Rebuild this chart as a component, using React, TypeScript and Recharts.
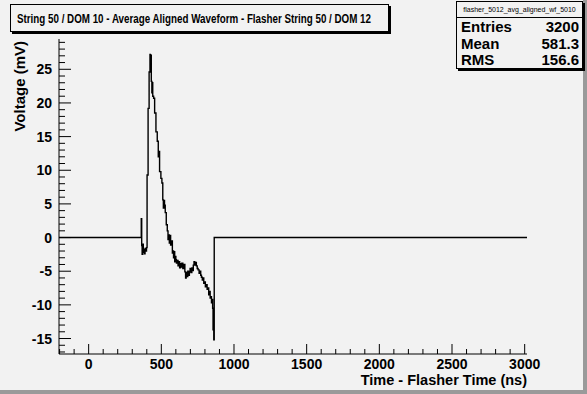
import { Line, LineChart, XAxis, YAxis } from "recharts";

// waveform samples (time in ns, voltage in mV), drawn as a step histogram
const timeNs = [
  -204, 355, 362, 365, 368, 372, 376, 380, 384, 388, 392, 398, 402, 409, 416, 422, 425, 428, 431, 435,
  438, 441, 447, 454, 463, 472, 479, 482, 488, 497, 504, 510, 514, 518, 522, 527, 534, 541, 546, 551,
  555, 560, 564, 568, 576, 580, 584, 587, 592, 596, 600, 604, 610, 615, 620, 626, 632, 637, 641, 648,
  655, 662, 667, 671, 676, 682, 688, 693, 698, 704, 710, 715, 720, 725, 730, 735, 741, 747, 753, 760,
  766, 771, 776, 782, 787, 792, 798, 803, 810, 815, 821, 826, 832, 836, 840, 845, 849, 853, 856, 859,
  861, 864, 3016,
];
const voltageMv = [
  0, 0, 2.8, -1.2, -2.5, -1.0, -2.2, -1.8, -2.4, -1.6, -2.0, -1.5, 9.3, 19.2, 24.6, 27.2, 25.8, 27.1, 23.2, 21.5,
  23.0, 21.0, 20.7, 18.5, 15.7, 14.3, 12.0, 12.8, 9.8, 8.8, 8.1, 5.6, 4.4, 5.5, 4.8, 3.7, 1.9, 1.0, -0.3, 0.4,
  -0.8, 0.3, -1.1, -0.5, -2.3, -2.0, -3.0, -2.1, -3.6, -2.8, -3.3, -3.8, -3.4, -4.2, -3.6, -4.5, -3.9, -4.4, -3.8, -4.6,
  -4.0, -5.1, -6.0, -5.2, -5.8, -5.0, -5.6, -5.1, -4.6, -5.2, -4.5, -4.9, -4.1, -3.6, -4.1, -3.7, -4.2, -4.6, -4.8, -5.3,
  -5.0, -5.6, -5.9, -6.3, -6.0, -6.8, -6.6, -7.3, -7.0, -7.7, -7.5, -8.5, -8.0, -9.0, -8.8, -9.7, -9.2, -10.5, -13.7, -11.0,
  -15.2, 0, 0,
];

const xTicks = Array.from({ length: 33 }, (_, i) => -200 + i * 100);
const yTicks = Array.from({ length: 47 }, (_, i) => -17 + i);

const title = "String 50 / DOM 10 - Average Aligned Waveform - Flasher String 50 / DOM 12";
const statsName = "flasher_5012_avg_aligned_wf_5010";
const statsRows = [
  ["Entries", "3200"],
  ["Mean", "581.3"],
  ["RMS", "156.6"],
];

const data = timeNs.map((t, i) => ({ t, v: voltageMv[i] }));

const font = "'Liberation Sans', Arial, Helvetica, sans-serif";
const bg = "#f2f2f2";

function XTick(props: any) {
  const { x, y, payload } = props;
  const major = payload.value % 500 === 0;
  return (
    <g>
      <line x1={x} x2={x} y1={y} y2={y - (major ? 10 : 5)} stroke="#000" />
      {major && (
        <text x={x} y={y + 15} textAnchor="middle" fontFamily={font} fontWeight="bold" fontSize={14} fill="#000">
          {payload.value}
        </text>
      )}
    </g>
  );
}

function YTick(props: any) {
  const { x, y, payload } = props;
  const major = payload.value % 5 === 0;
  return (
    <g>
      <line x1={x} x2={x + (major ? 12 : 6)} y1={y} y2={y} stroke="#000" />
      {major && (
        <text x={x - 7} y={y + 5} textAnchor="end" fontFamily={font} fontWeight="bold" fontSize={14} fill="#000">
          {payload.value}
        </text>
      )}
    </g>
  );
}

export default function App() {
  return (
    <div style={{ position: "fixed", left: 0, top: 0, width: 587, height: 394, background: bg, fontFamily: font }}>
      <div style={{ position: "absolute", right: 0, top: 0, width: 4, height: 394, background: "#9a9a9a" }} />
      <div style={{ position: "absolute", left: 0, bottom: 0, width: 587, height: 4, background: "#9a9a9a" }} />

      <LineChart width={587} height={394} data={data} margin={{ top: 39, right: 60, left: 19, bottom: 10 }}>
        <XAxis
          dataKey="t"
          type="number"
          domain={[-204, 3016]}
          ticks={xTicks}
          interval={0}
          height={30}
          tickSize={0}
          tickMargin={0}
          tickLine={false}
          tick={<XTick />}
          axisLine={{ stroke: "#000" }}
          allowDataOverflow
        />
        <XAxis xAxisId="top" orientation="top" type="number" domain={[-204, 3016]} tick={false} height={0} axisLine={{ stroke: "#000" }} />
        <YAxis
          type="number"
          domain={[-17.3, 29.5]}
          ticks={yTicks}
          interval={0}
          width={40}
          tickSize={0}
          tickMargin={0}
          tickLine={false}
          tick={<YTick />}
          axisLine={{ stroke: "#000" }}
          allowDataOverflow
        />
        <YAxis yAxisId="right" orientation="right" type="number" domain={[-17.3, 29.5]} tick={false} width={0} axisLine={{ stroke: "#000" }} />
        <Line type="stepAfter" dataKey="v" stroke="#000" strokeWidth={1.4} dot={false} isAnimationActive={false} />
      </LineChart>

      <div
        style={{
          position: "absolute",
          left: 10,
          top: 4,
          width: 377,
          height: 26,
          border: "1px solid #000",
          boxShadow: "2px 2px 0 #000",
          background: bg,
        }}
      />

      <svg width={587} height={394} style={{ position: "absolute", left: 0, top: 0, pointerEvents: "none" }}>
        <text x={17} y={23} textLength={354} lengthAdjust="spacingAndGlyphs" fontFamily={font} fontWeight="bold" fontSize={12.5}>
          {title}
        </text>
        <text x={25} y={41} transform="rotate(-90 25 41)" textAnchor="end" fontFamily={font} fontWeight="bold" fontSize={15}>
          Voltage (mV)
        </text>
        <text x={527} y={385} textAnchor="end" fontFamily={font} fontWeight="bold" fontSize={14.5}>
          Time - Flasher Time (ns)
        </text>
      </svg>

      <div
        style={{
          position: "absolute",
          left: 456,
          top: 1,
          width: 125,
          height: 66,
          border: "1px solid #000",
          boxShadow: "2px 2px 0 #000",
          background: bg,
        }}
      >
        <div style={{ height: 15, borderBottom: "1px solid #000", fontSize: 7, lineHeight: "15px", textAlign: "center", whiteSpace: "nowrap" }}>{statsName}</div>
        {statsRows.map(([k, v]) => (
          <div key={k} style={{ display: "flex", justifyContent: "space-between", padding: "0 3px 0 4px", fontWeight: "bold", fontSize: 15, lineHeight: "16.5px", marginTop: k === "Entries" ? 1 : 0 }}>
            <span>{k}</span>
            <span>{v}</span>
          </div>
        ))}
      </div>
    </div>
  );
}
